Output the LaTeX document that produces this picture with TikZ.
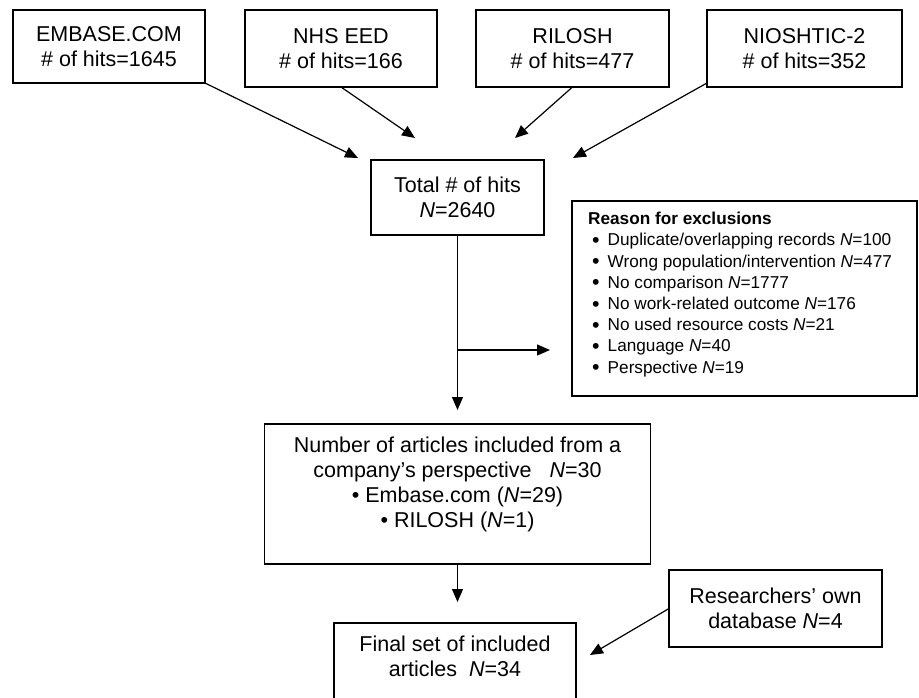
\documentclass[tikz,border=0pt]{standalone}
\usepackage{fontspec}
\setmainfont{Liberation Sans}
\usetikzlibrary{arrows.meta}
\newcommand{\bigbul}{\raisebox{-1.7pt}{\scalebox{1.25}{\textbullet}}}
\begin{document}
\begin{tikzpicture}[x=1pt,y=-1pt,
  box/.style={draw, line width=1.4pt, inner sep=0pt, outer sep=0pt},
  conn/.style={line width=1.2pt, -{Triangle[length=13pt,width=11pt]}},
  txt/.style={font=\fontsize{21.5}{25}\selectfont, align=center, inner sep=0pt},
  smalltxt/.style={font=\fontsize{17.2}{21.2}\selectfont, align=left, inner sep=0pt}]
\useasboundingbox (0,0) rectangle (919,697);

% top source boxes
\node[box, txt, minimum width=192pt, minimum height=73pt] (emb) at (109,46.5) {EMBASE.COM\\\# of hits=1645};
\node[box, txt, minimum width=192pt, minimum height=77pt] (nhs) at (341,48.5) {NHS EED\\\# of hits=166};
\node[box, txt, minimum width=193pt, minimum height=77pt] (ril) at (572.5,48.5) {RILOSH\\\# of hits=477};
\node[box, txt, minimum width=195pt, minimum height=77pt] (nio) at (804.5,48.5) {NIOSHTIC-2\\\# of hits=352};

% total
\node[box, txt, minimum width=173pt, minimum height=75pt] (tot) at (457.5,197.5) {Total \# of hits\\\textit{N}=2640};

% exclusions
\node[box, minimum width=345pt, minimum height=195pt] (exc) at (744.5,298.5) {};
\node[smalltxt, anchor=north west] (exct) at (588,212) {\textbf{Reason for exclusions}\\
\hspace*{4pt}\bigbul\hspace{8pt}Duplicate/overlapping records \textit{N}=100\\
\hspace*{4pt}\bigbul\hspace{8pt}Wrong population/intervention \textit{N}=477\\
\hspace*{4pt}\bigbul\hspace{8pt}No comparison \textit{N}=1777\\
\hspace*{4pt}\bigbul\hspace{8pt}No work-related outcome \textit{N}=176\\
\hspace*{4pt}\bigbul\hspace{8pt}No used resource costs \textit{N}=21\\
\hspace*{4pt}\bigbul\hspace{8pt}Language \textit{N}=40\\
\hspace*{4pt}\bigbul\hspace{8pt}Perspective \textit{N}=19};

% number of articles
\node[box, minimum width=386pt, minimum height=140pt] (num) at (457.5,494) {};
\node[txt, anchor=north] (numt) at (457.5,437) {Number of articles included from a\\company’s perspective\ \ \ \textit{N}=30\\\textbullet\ Embase.com (\textit{N}=29)\\\textbullet\ RILOSH (\textit{N}=1)};

% final
\node[box, minimum width=242pt, minimum height=110pt] (fin) at (455,678) {};
\node[txt, anchor=north] (fint) at (455,636) {Final set of included\\articles\ \ \textit{N}=34};

% researchers
\node[box, txt, minimum width=213pt, minimum height=77pt] (res) at (775.5,608.5) {Researchers’ own\\database \textit{N}=4};

% arrow tips
\coordinate (t1) at (358,158);
\coordinate (t2) at (415,138);
\coordinate (t3) at (515,138);
\coordinate (t4) at (573,158);
\coordinate (t5) at (457.5,410);
\coordinate (t6) at (550,350);
\coordinate (t7) at (457.5,602);
\coordinate (t8) at (590,655);

\draw[conn] (emb.south east) -- (t1);
\draw[conn] (nhs.south) -- (t2);
\draw[conn] (ril.south) -- (t3);
\draw[conn] ([yshift=4pt]nio.south west) -- (t4);
\draw[conn] (tot.south) -- (t5);
\draw[conn] (tot.south |- t6) -- (t6);
\draw[conn] (num.south) -- (t7);
\draw[conn] (res.west) -- (t8);
\end{tikzpicture}
\end{document}
